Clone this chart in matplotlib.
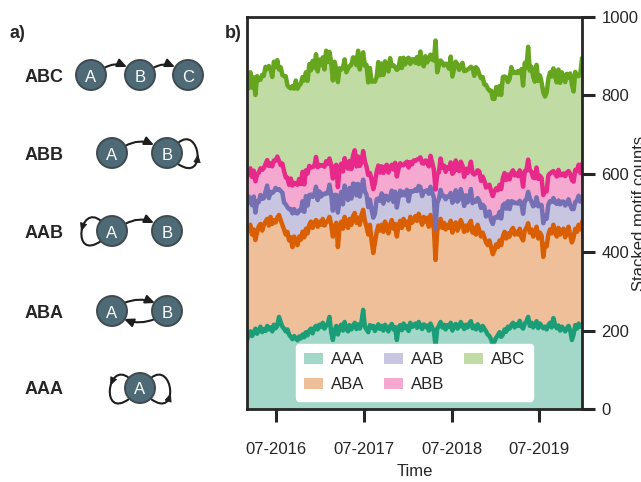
import numpy as np
import pandas as pd
import matplotlib
matplotlib.use("Agg")
import matplotlib.pyplot as plt
import matplotlib.dates as mdates
from matplotlib.patches import Circle, FancyArrowPatch, PathPatch, Polygon
from matplotlib.path import Path

plt.rcParams['font.family'] = ['Liberation Sans', 'DejaVu Sans']
TXT = '#262626'
plt.rcParams['text.color'] = TXT
plt.rcParams['axes.labelcolor'] = TXT
plt.rcParams['xtick.color'] = TXT
plt.rcParams['ytick.color'] = TXT

# ---------------- data (weekly motif counts) ----------------
start_date = '2016-03-02'
motifs = ['AAA', 'ABA', 'AAB', 'ABB', 'ABC']

AAA = [176, 190, 198, 186, 195, 205, 192, 200, 210, 196,
       204, 199, 212, 203, 208, 198, 215, 206, 212, 235,
       222, 210, 205, 198, 203, 190, 184, 178, 186, 181,
       175, 185, 180, 190, 183, 196, 188, 200, 205, 193,
       207, 212, 203, 215, 209, 220, 205, 212, 218, 235,
       196, 176, 200, 212, 190, 208, 215, 200, 222, 205,
       198, 214, 203, 211, 220, 204, 216, 205, 222, 253,
       210, 203, 196, 214, 207, 212, 199, 208, 216, 204,
       212, 200, 215, 206, 198, 211, 217, 203, 209, 176,
       208, 214, 201, 218, 206, 212, 199, 220, 209, 214,
       218, 207, 222, 212, 204, 216, 209, 213, 200, 218,
       208, 198, 163, 205, 212, 222, 208, 215, 203, 214,
       209, 220, 200, 212, 217, 205, 210, 222, 213, 204,
       215, 208, 218, 224, 206, 212, 203, 216, 209, 200,
       212, 205, 198, 190, 186, 178, 163, 172, 182, 188,
       196, 184, 190, 203, 197, 210, 205, 214, 220, 208,
       216, 212, 225, 210, 205, 218, 224, 235, 212, 220,
       208, 215, 224, 206, 218, 212, 206, 210, 203, 214,
       220, 208, 232, 215, 206, 213, 200, 210, 205, 198,
       206, 212, 200, 176, 190, 214, 205, 218, 210, 214]

ABA = [274, 272, 272, 259, 263, 226, 260, 266, 262, 259,
       266, 279, 273, 265, 282, 274, 267, 270, 276, 260,
       260, 260, 253, 247, 249, 240, 254, 235, 254, 244,
       243, 255, 252, 262, 255, 264, 260, 270, 273, 269,
       268, 270, 262, 263, 261, 265, 263, 264, 262, 255,
       274, 264, 262, 263, 223, 257, 263, 260, 268, 267,
       264, 271, 267, 281, 280, 271, 272, 265, 273, 255,
       270, 262, 249, 256, 223, 186, 226, 242, 252, 251,
       258, 252, 263, 259, 250, 259, 265, 257, 263, 264,
       260, 266, 261, 267, 264, 266, 259, 270, 266, 268,
       274, 273, 276, 274, 266, 274, 269, 275, 265, 277,
       270, 262, 217, 250, 258, 263, 254, 260, 255, 256,
       253, 260, 250, 256, 259, 250, 255, 260, 257, 248,
       253, 247, 254, 256, 244, 250, 242, 254, 246, 240,
       238, 233, 227, 228, 244, 234, 232, 233, 238, 225,
       234, 234, 250, 249, 238, 238, 235, 241, 242, 237,
       236, 233, 235, 228, 225, 237, 238, 239, 238, 238,
       232, 237, 241, 229, 232, 230, 182, 210, 212, 231,
       238, 240, 238, 237, 234, 249, 245, 245, 255, 240,
       244, 253, 242, 249, 248, 246, 247, 252, 248, 261]

AAB = [72, 80, 66, 75, 84, 70, 78, 62, 74, 81,
       68, 76, 85, 70, 64, 79, 73, 88, 71, 66,
       74, 82, 69, 77, 63, 80, 72, 86, 70, 75,
       81, 67, 74, 78, 65, 83, 71, 76, 69, 79,
       73, 85, 68, 77, 72, 64, 80, 75, 70, 82,
       78, 66, 84, 71, 88, 69, 76, 62, 80, 73,
       71, 79, 67, 83, 74, 70, 86, 72, 68, 77,
       75, 82, 70, 64, 79, 90, 73, 85, 69, 76,
       80, 72, 66, 78, 84, 71, 75, 68, 82, 74,
       70, 77, 83, 69, 75, 81, 72, 66, 79, 74,
       68, 76, 71, 80, 73, 65, 78, 70, 84, 72,
       75, 79, 80, 70, 66, 74, 81, 69, 77, 72,
       80, 71, 76, 68, 82, 74, 70, 79, 73, 66,
       77, 72, 69, 81, 75, 70, 84, 68, 76, 73,
       71, 78, 66, 80, 74, 69, 77, 83, 70, 75,
       73, 68, 79, 72, 76, 82, 70, 75, 67, 80,
       74, 79, 71, 85, 68, 76, 72, 80, 88, 70,
       77, 69, 75, 82, 71, 78, 86, 73, 70, 76,
       72, 80, 68, 75, 83, 70, 77, 74, 69, 81,
       75, 70, 78, 85, 72, 68, 80, 74, 71, 62]

ABB = [70, 64, 78, 72, 66, 80, 69, 75, 68, 74,
       77, 71, 65, 82, 73, 68, 79, 70, 85, 72,
       66, 74, 80, 69, 75, 62, 78, 71, 67, 76,
       73, 80, 68, 75, 70, 66, 82, 74, 69, 77,
       71, 76, 84, 68, 79, 73, 70, 81, 75, 67,
       74, 82, 70, 77, 65, 79, 72, 84, 70, 76,
       80, 69, 75, 72, 86, 74, 70, 78, 66, 73,
       77, 71, 82, 68, 76, 73, 79, 70, 84, 72,
       69, 78, 73, 80, 71, 76, 66, 83, 74, 79,
       75, 70, 77, 68, 82, 72, 86, 74, 70, 78,
       73, 80, 69, 76, 84, 71, 78, 74, 70, 79,
       76, 72, 100, 74, 68, 80, 73, 77, 70, 75,
       71, 78, 74, 69, 76, 82, 72, 70, 78, 74,
       68, 75, 72, 70, 77, 66, 73, 71, 75, 69,
       72, 66, 74, 70, 68, 75, 71, 67, 73, 70,
       69, 75, 70, 78, 73, 68, 76, 72, 80, 71,
       75, 70, 78, 72, 69, 76, 74, 82, 71, 77,
       73, 68, 76, 70, 74, 69, 72, 66, 70, 75,
       71, 76, 69, 73, 70, 78, 74, 68, 72, 75,
       78, 72, 80, 74, 70, 82, 76, 79, 73, 86]

ABC = [230, 212, 245, 228, 238, 220, 250, 236, 226, 242,
       235, 248, 232, 255, 240, 228, 252, 238, 246, 233,
       250, 226, 242, 258, 236, 248, 230, 254, 240, 262,
       245, 238, 256, 242, 265, 250, 236, 260, 248, 270,
       252, 262, 244, 268, 256, 275, 248, 282, 260, 272,
       262, 250, 270, 245, 268, 256, 240, 264, 252, 238,
       255, 242, 266, 250, 236, 258, 270, 246, 262, 252,
       244, 260, 236, 268, 250, 275, 258, 242, 264, 248,
       262, 250, 270, 246, 258, 278, 252, 266, 244, 272,
       256, 268, 248, 274, 252, 262, 280, 250, 268, 258,
       250, 262, 242, 270, 255, 248, 266, 252, 274, 258,
       262, 278, 380, 260, 272, 250, 268, 255, 276, 262,
       255, 270, 248, 262, 252, 268, 258, 244, 262, 270,
       250, 264, 256, 242, 268, 252, 270, 258, 248, 262,
       254, 246, 262, 250, 240, 256, 248, 236, 258, 244,
       252, 240, 258, 246, 262, 236, 256, 270, 248, 264,
       256, 268, 248, 272, 258, 276, 262, 288, 254, 268,
       258, 246, 262, 250, 256, 244, 262, 238, 252, 246,
       258, 244, 262, 250, 240, 256, 236, 262, 248, 240,
       252, 238, 256, 244, 230, 250, 242, 226, 254, 270]

line_colors = ['#1b9e77', '#d95f02', '#7570b3', '#e7298a', '#66a61e']
xtick_dates = ['2016-07-01', '2017-07-01', '2018-07-01', '2019-07-01']

# ---------------- figure ----------------
W, H = 641, 482
fig = plt.figure(figsize=(W / 100, H / 100), dpi=100)

# ----- panel a: motif diagrams (pixel coordinate overlay) -----
ax0 = fig.add_axes([0, 0, 1, 1])
ax0.set_xlim(0, W)
ax0.set_ylim(H, 0)
ax0.axis('off')

NODE_FC = '#4f6a77'
NODE_EC = '#3f4a50'
ARROW_C = '#1e1e1e'
R = 15


def node(x, y, lab):
    ax0.add_patch(Circle((x, y), R, fc=NODE_FC, ec=NODE_EC, lw=1.4, zorder=3))
    ax0.text(x, y + 0.5, lab, color='white', ha='center', va='center_baseline',
             fontsize=12, zorder=4)


def arrow(p0, p1, rad=-0.25):
    a = FancyArrowPatch(p0, p1, connectionstyle=f'arc3,rad={rad}',
                        arrowstyle='-|>,head_length=0.55,head_width=0.25',
                        mutation_scale=10, lw=1.5, color=ARROW_C,
                        shrinkA=0, shrinkB=0, zorder=2)
    ax0.add_patch(a)


def head(pt, d, L=7.5, Wd=6.5):
    d = np.asarray(d, float)
    d = d / np.linalg.norm(d)
    pvec = np.array([-d[1], d[0]])
    pt = np.asarray(pt, float)
    tip = pt + d * L / 2
    b = pt - d * L / 2
    ax0.add_patch(Polygon([tip, b + pvec * Wd / 2, b - pvec * Wd / 2],
                          closed=True, fc=ARROW_C, ec=ARROW_C, lw=0.5, zorder=2))


def loop(P0, P1, P2, P3, t, reverse=False):
    P = np.array([P0, P1, P2, P3], float)
    path = Path(P, [Path.MOVETO, Path.CURVE4, Path.CURVE4, Path.CURVE4])
    ax0.add_patch(PathPatch(path, fc='none', ec=ARROW_C, lw=1.5, zorder=2))
    c = np.array([(1 - t) ** 3, 3 * (1 - t) ** 2 * t, 3 * (1 - t) * t ** 2, t ** 3])
    pt = c @ P
    dc = np.array([-3 * (1 - t) ** 2, 3 * (1 - t) ** 2 - 6 * (1 - t) * t,
                   6 * (1 - t) * t - 3 * t ** 2, 3 * t ** 2])
    d = dc @ P
    if reverse:
        d = -d
    head(pt, d)


ax0.text(10, 33, 'a)', fontsize=13, fontweight='bold', ha='left', va='center')
ax0.text(225, 33, 'b)', fontsize=13, fontweight='bold', ha='left', va='center')

rows = {'ABC': 75, 'ABB': 153, 'AAB': 231, 'ABA': 311, 'AAA': 388}
for lab, y in rows.items():
    ax0.text(25, y, lab, fontsize=13, fontweight='bold', ha='left', va='center_baseline')

# ABC
y = rows['ABC']
node(91, y, 'A'); node(140, y, 'B'); node(188, y, 'C')
arrow((104, y - 7), (127, y - 8))
arrow((153, y - 7), (175, y - 8))
# ABB
y = rows['ABB']
node(112, y, 'A'); node(167, y, 'B')
arrow((125, y - 7), (154, y - 8))
loop((178, y - 10), (200, y - 29), (208, y + 31), (178, y + 11), 0.58, reverse=True)
# AAB
y = rows['AAB']
node(112, y, 'A'); node(167, y, 'B')
arrow((125, y - 7), (154, y - 8))
loop((101, y - 10), (79, y - 29), (71, y + 31), (101, y + 10), 0.42)
# ABA
y = rows['ABA']
node(112, y, 'A'); node(167, y, 'B')
arrow((124, y - 8), (155, y - 8), rad=-0.2)
arrow((155, y + 8), (124, y + 8), rad=-0.2)
# AAA
y = rows['AAA']
node(140, y, 'A')
loop((129, y - 10), (107, y - 28), (100, y + 32), (129, y + 11), 0.36)
loop((151, y - 10), (173, y - 28), (180, y + 32), (151, y + 11), 0.64, reverse=True)

# ----- panel b: stacked area chart -----
n = min(len(AAA), len(ABA), len(AAB), len(ABB), len(ABC))
series = [np.array(s[:n], float) for s in (AAA, ABA, AAB, ABB, ABC)]
dates = pd.date_range(start_date, periods=n, freq='7D')

ax = fig.add_axes([247 / W, (H - 409) / H, 335 / W, 392 / H])
ax.stackplot(dates, *series, colors=line_colors, alpha=0.4, labels=motifs, lw=0.8)
cum = np.cumsum(np.vstack(series), axis=0)
for i in range(len(series)):
    ax.plot(dates, cum[i], color=line_colors[i], lw=3.2, solid_joinstyle='round')

ax.set_xlim(dates[0], dates[-1])
ax.set_ylim(0, 1000)
ax.set_yticks([0, 200, 400, 600, 800, 1000])
ax.set_xticks(pd.to_datetime(xtick_dates))
ax.xaxis.set_major_formatter(mdates.DateFormatter('%m-%Y'))
ax.yaxis.tick_right()
ax.yaxis.set_label_position('right')
ax.tick_params(axis='both', labelsize=12, width=2.2, length=9, color=TXT, pad=5)
ax.tick_params(axis='x', pad=15)
for s in ax.spines.values():
    s.set_linewidth(2.0)
    s.set_color(TXT)
ax.set_xlabel('Time', fontsize=12, labelpad=5)
ax.set_ylabel('Stacked motif counts', fontsize=12, labelpad=-5)

leg = ax.legend(loc='lower center', ncol=3, fontsize=12, frameon=True,
                framealpha=1, edgecolor='white', facecolor='white', fancybox=True,
                columnspacing=1.2, handletextpad=0.45, handlelength=1.15,
                borderaxespad=0.5, borderpad=0.5, labelspacing=0.6)

fig.savefig('out.png', dpi=100)
